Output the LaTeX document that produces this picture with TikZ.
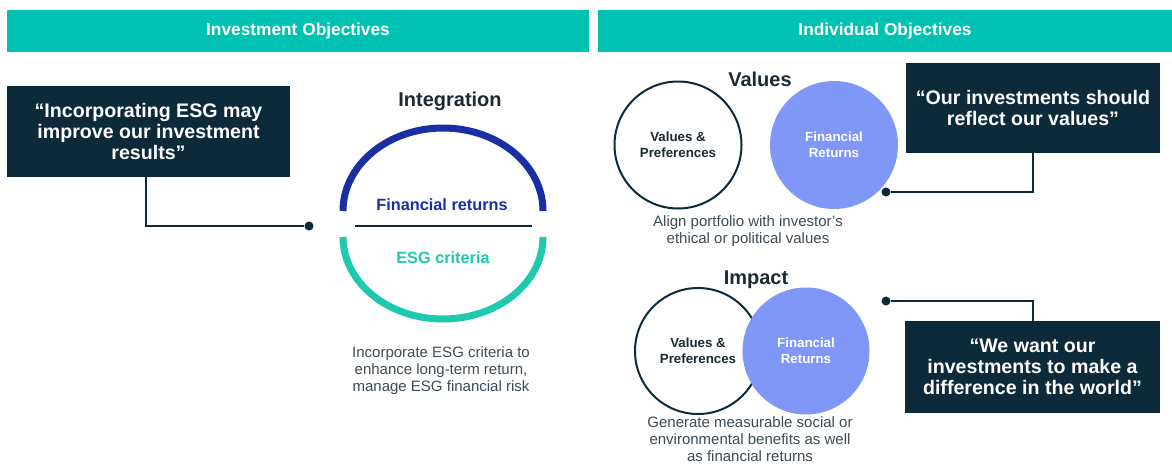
\documentclass[tikz,border=0pt]{standalone}
\usepackage{fontspec}
\setmainfont{Liberation Sans}
\definecolor{tealbar}{HTML}{00C2B2}
\definecolor{navy}{HTML}{0C2A3A}
\definecolor{arcblue}{HTML}{1A2FA6}
\definecolor{arcteal}{HTML}{1FC9B0}
\definecolor{peri}{HTML}{7F97F7}
\definecolor{desctext}{HTML}{3D4B55}
\definecolor{titletext}{HTML}{1C2A33}
\begin{document}
\begin{tikzpicture}[x=1pt,y=1pt,
  header/.style={fill=tealbar, text=white, font=\fontsize{17.3}{20}\selectfont\bfseries, minimum height=42pt, inner sep=0pt},
  quotebox/.style={fill=navy, text=white, font=\fontsize{19.6}{21}\selectfont\bfseries, align=center, inner sep=0pt},
  conn/.style={draw=navy, line width=2pt},
  dotst/.style={circle, fill=navy, minimum size=9pt, inner sep=0pt},
  desc/.style={text=desctext, font=\fontsize{15}{17}\selectfont, align=center, inner sep=0pt},
  sectitle/.style={text=titletext, font=\fontsize{20}{22}\selectfont\bfseries, inner sep=0pt},
  circtext/.style={font=\fontsize{13.3}{16}\selectfont\bfseries, align=center, inner sep=0pt},
  whitecirc/.style={circle, draw=navy, line width=2pt, fill=white, circtext, text=titletext},
  fincirc/.style={circle, fill=peri, circtext, text=white}
]
\useasboundingbox (0,0) rectangle (1172,-464);
\fill[white] (0,0) rectangle (1172,-464);

% headers
\node[header, minimum width=582pt] (h1) at (298,-31) {Investment Objectives};
\node[header, minimum width=574pt] (h2) at (885,-31) {Individual Objectives};

% left: integration
\node[quotebox, minimum width=283pt, minimum height=91pt] (q1) at (148.5,-131.5)
  {“Incorporating ESG may\\improve our investment\\results”};
\node[dotst] (d1) at (309,-226) {};
\draw[conn] ([xshift=-2.5pt]q1.south) |- (d1);

\node[sectitle] (integ) at (450,-101) {Integration};
\coordinate (ba) at (343,-211);
\draw[arcblue, line width=7pt] (ba) arc[start angle=180, end angle=0, x radius=100pt, y radius=83pt];
\node[text=arcblue, font=\fontsize{16.3}{18}\selectfont\bfseries, inner sep=0pt] (fr) at (442,-205) {Financial returns};
\coordinate (l1) at (355,-226);
\coordinate (l2) at (532,-226);
\draw[navy, line width=2.3pt] (l1) -- (l2);
\coordinate (ta) at (343,-237);
\draw[arcteal, line width=7pt] (ta) arc[start angle=180, end angle=360, x radius=100pt, y radius=82pt];
\node[text=arcteal, font=\fontsize{16.3}{18}\selectfont\bfseries, inner sep=0pt] (esg) at (443,-258) {ESG criteria};
\node[desc] (intdesc) at (441,-371) {Incorporate ESG criteria to\\enhance long-term return,\\manage ESG financial risk};

% right: values
\node[sectitle] (valt) at (760,-79) {Values};
\node[whitecirc, minimum size=127pt] (c1) at (678,-145) {Values \&\\Preferences};
\node[fincirc, minimum size=128pt] (c2) at (834,-145) {Financial\\Returns};
\node[desc] (valdesc) at (748,-231) {Align portfolio with investor’s\\ethical or political values};
\node[quotebox, minimum width=254pt, minimum height=90pt] (q2) at (1033,-108)
  {“Our investments should\\reflect our values”};
\node[dotst] (d2) at (886,-192) {};
\draw[conn] (q2.south) |- (d2);

% right: impact
\node[sectitle] (impt) at (756,-280) {Impact};
\node[whitecirc, minimum size=126pt] (c3) at (698,-351) {Values \&\\Preferences};
\node[fincirc, minimum size=127pt] (c4) at (806,-351) {Financial\\Returns};
\node[desc] (impdesc) at (750,-439) {Generate measurable social or\\environmental benefits as well\\as financial returns};
\node[quotebox, minimum width=255pt, minimum height=92pt] (q3) at (1032.5,-367)
  {“We want our\\investments to make a\\difference in the world”};
\node[dotst] (d3) at (886,-301) {};
\draw[conn] (d3) -| (q3.north);
\end{tikzpicture}
\end{document}
